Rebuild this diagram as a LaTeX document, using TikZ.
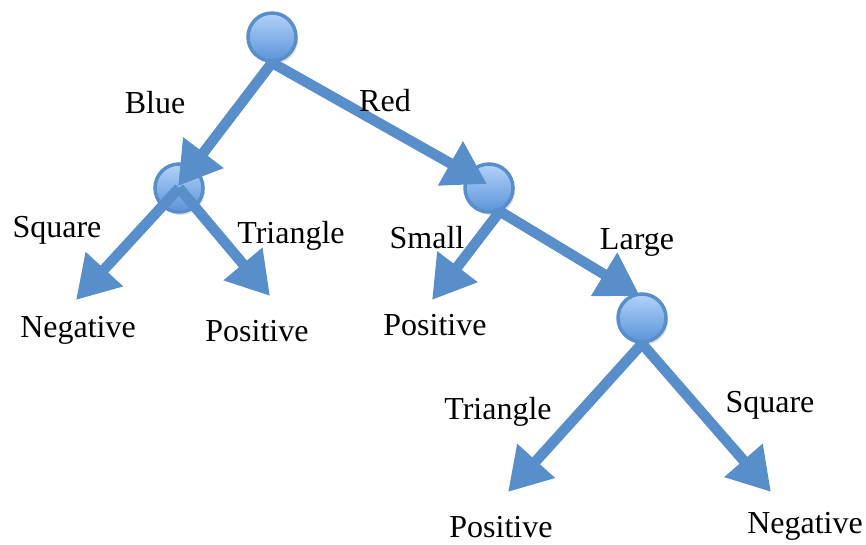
\documentclass[tikz,border=0pt]{standalone}
\usepackage{fontspec}
\setmainfont{Liberation Serif}
\usetikzlibrary{arrows.meta,shadows}

\definecolor{edgeblue}{RGB}{88,142,202}
\definecolor{balltop}{RGB}{178,210,250}
\definecolor{ballbot}{RGB}{90,148,216}

\tikzset{
  ball/.style={circle, minimum size=48pt, inner sep=0pt, draw=edgeblue,
    line width=3.5pt, top color=balltop, bottom color=ballbot,
    drop shadow={opacity=0.25, shadow xshift=2pt, shadow yshift=-3pt}},
  branch/.style={draw=edgeblue, line width=10.5pt,
    -{Triangle[length=42pt,width=48pt]}},
  lbl/.style={font=\fontsize{32}{32}\selectfont, inner sep=0pt}
}

\begin{document}
\begin{tikzpicture}[x=1pt,y=-1pt]
\useasboundingbox (0,0) rectangle (866,544);

% === decision nodes ===
\node[ball] (root)  at (272,37)  {};
\node[ball] (blue)  at (179,188) {};
\node[ball] (red)   at (489,188) {};
\node[ball] (large) at (642,318) {};

% === arrow tips ===
\coordinate (tBlue)  at (178,186);
\coordinate (tRed)   at (487,184);
\coordinate (tNegA)  at (76,300);
\coordinate (tPosA)  at (270,296);
\coordinate (tPosB)  at (432,300);
\coordinate (tLarge) at (640,296);
\coordinate (tPosC)  at (508,492);
\coordinate (tNegB)  at (771,492);

% === branches ===
\draw[branch] (root.south) -- (tBlue);
\draw[branch] (root.south) -- (tRed);
\draw[branch] (blue.center) -- (tNegA);
\draw[branch] (blue.center) -- (tPosA);
\draw[branch] (red.-65) -- (tPosB);
\draw[branch] (red.-65) -- (tLarge);
\draw[branch] (large.south) -- (tPosC);
\draw[branch] (large.south) -- (tNegB);

% === branch labels ===
\node[lbl] (lBlue)  at (155,103) {Blue};
\node[lbl] (lRed)   at (385,101) {Red};
\node[lbl] (lSqA)   at (57,230)  {Square};
\node[lbl] (lTriA)  at (291,236) {Triangle};
\node[lbl] (lSmall) at (427,238) {Small};
\node[lbl] (lLarge) at (637,242) {Large};
\node[lbl] (lTriB)  at (498,412) {Triangle};
\node[lbl] (lSqB)   at (770,405) {Square};

% === leaves ===
\node[lbl] (negA) at (78,330)  {Negative};
\node[lbl] (posA) at (257,331) {Positive};
\node[lbl] (posB) at (435,325) {Positive};
\node[lbl] (posC) at (501,527) {Positive};
\node[lbl] (negB) at (805,526) {Negative};
\end{tikzpicture}
\end{document}
